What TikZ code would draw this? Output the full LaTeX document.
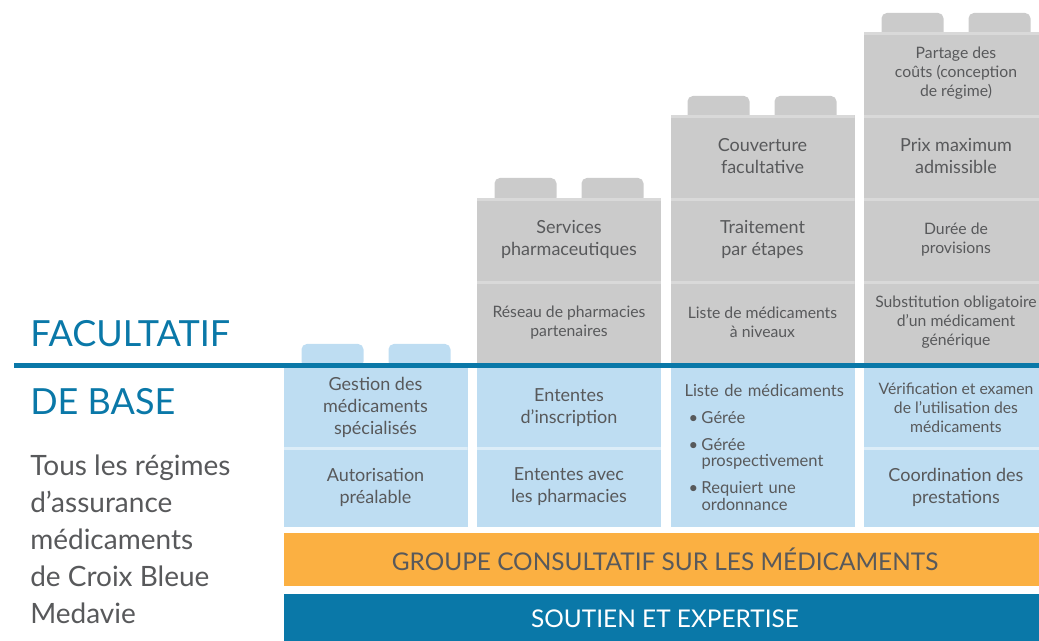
\documentclass[tikz,border=0pt]{standalone}
\usepackage{fontspec}
\setmainfont{Lato}
\usepackage{xcolor}
\definecolor{dark_blue}{HTML}{0A78A8}
\definecolor{light_blue}{HTML}{BEDDF2}
\definecolor{base_sep}{HTML}{DCEDF8}
\definecolor{opt_gray}{HTML}{CBCBCB}
\definecolor{opt_light}{HTML}{D9D9D9}
\definecolor{bar_orange}{HTML}{FBB042}
\definecolor{text_gray}{HTML}{58595B}
\usetikzlibrary{positioning}
\newcommand{\bigtxt}{\fontsize{13.5}{16.5}\selectfont}
\newcommand{\smalltxt}{\fontsize{11.8}{14.25}\selectfont}
\newcommand{\puce}{\makebox[12.75pt][r]{\textbullet\hspace{2.5pt}}}

\begin{document}
\begin{tikzpicture}[x=0.75pt, y=-0.75pt]
\tikzset{
    cell/.style={minimum width=138pt, inner sep=1pt, align=center, text=text_gray, font=\bigtxt},
    opt/.style={cell, fill=opt_gray, minimum height=62.25pt,
        path picture={\fill[opt_light] (path picture bounding box.north west) rectangle ([yshift=-2.25pt]path picture bounding box.north east);}},
    base/.style={cell, fill=light_blue, minimum height=59.25pt},
    lowrow/.style={base, minimum height=60pt,
        path picture={\fill[base_sep] (path picture bounding box.north west) rectangle ([yshift=-2.25pt]path picture bounding box.north east);}},
    bar/.style={minimum width=571.5pt, inner sep=0pt, font=\fontsize{18.3}{20}\selectfont},
    heading/.style={anchor=base west, inner sep=0pt, text=dark_blue, font=\fontsize{27}{30}\selectfont}
}
\useasboundingbox (0,0) rectangle (1039,641);
% nubs
\foreach \cx/\top in {477/178, 670/96, 864/13}{
  \fill[opt_gray, rounded corners=4pt] (\cx+17.5,\top+25) rectangle (\cx+79.5,\top);
  \fill[opt_gray, rounded corners=4pt] (\cx+104.5,\top+25) rectangle (\cx+166.5,\top);
}
\fill[light_blue, rounded corners=4pt] (301.5,367) rectangle (363.5,344);
\fill[light_blue, rounded corners=4pt] (388.5,367) rectangle (450.5,344);
% optional blocks
\node[opt] (srv) at (569,239.5) {Services\\pharmaceutiques};
\node[opt, font=\smalltxt] (res) at (569,322.5) {Réseau de pharmacies\\partenaires};
\node[opt] (cov) at (762.5,156.5) {Couverture\\facultative};
\node[opt] (trt) at (762.5,239.5) {Traitement\\par étapes};
\node[opt, font=\smalltxt] (niv) at (762.5,322.5) {Liste de médicaments\\à niveaux};
\node[opt, font=\smalltxt] (prt) at (956,73.5) {Partage des\\coûts (conception\\de régime)};
\node[opt] (pma) at (956,156.5) {Prix maximum\\admissible};
\node[opt, font=\smalltxt] (dur) at (956,239.5) {Durée de\\provisions};
\node[opt, font=\smalltxt] (sub) at (956,322.5) {Substitution obligatoire\\d’un médicament\\générique};
% base blocks
\node[base] (ges) at (375.5,407.5) {Gestion des\\médicaments\\spécialisés};
\node[lowrow] (aut) at (375.5,487) {Autorisation\\préalable};
\node[base] (ins) at (569,407.5) {Ententes\\d’inscription};
\node[lowrow] (pha) at (569,487) {Ententes avec\\les pharmacies};
\node[base, minimum height=119.25pt, inner xsep=10.5pt, text width=117pt, align=left,
      font=\fontsize{12.4}{12.5}\selectfont] (lst) at (762.5,447.5)
  {\mbox{Liste de médicaments}\\[7.5pt]
   \puce Gérée\\[7.5pt]
   \puce Gérée\\\hspace*{12.75pt}prospectivement\\[7.5pt]
   \puce Requiert une\\\hspace*{12.75pt}ordonnance};
\node[base, font=\smalltxt] (ver) at (956,407.5) {Vérification et examen\\de l’utilisation des\\médicaments};
\node[lowrow] (coo) at (956,487) {Coordination des\\prestations};
% dividing rule
\coordinate (rule west) at (14,366);
\coordinate (rule east) at (1039,366);
\draw[dark_blue, line width=3.75pt] (rule west) -- (rule east);
% bars
\node[bar, fill=bar_orange, text=text_gray, minimum height=39.75pt] (gcm) at (665,559.5) {GROUPE CONSULTATIF SUR LES MÉDICAMENTS};
\node[bar, fill=dark_blue, text=white, minimum height=37.5pt] (sou) at (665,619) {SOUTIEN ET EXPERTISE};
% left labels
\node[heading] (facultatif) at (30,347) {FACULTATIF};
\node[heading] (debase) at (30,415) {DE BASE};
\node[anchor=north west, inner sep=0pt, align=left, text=text_gray,
      font=\fontsize{21}{27.75}\selectfont] (tous) at (30,455)
  {Tous les régimes\\d’assurance\\médicaments\\de Croix Bleue\\Medavie};
\end{tikzpicture}
\end{document}
